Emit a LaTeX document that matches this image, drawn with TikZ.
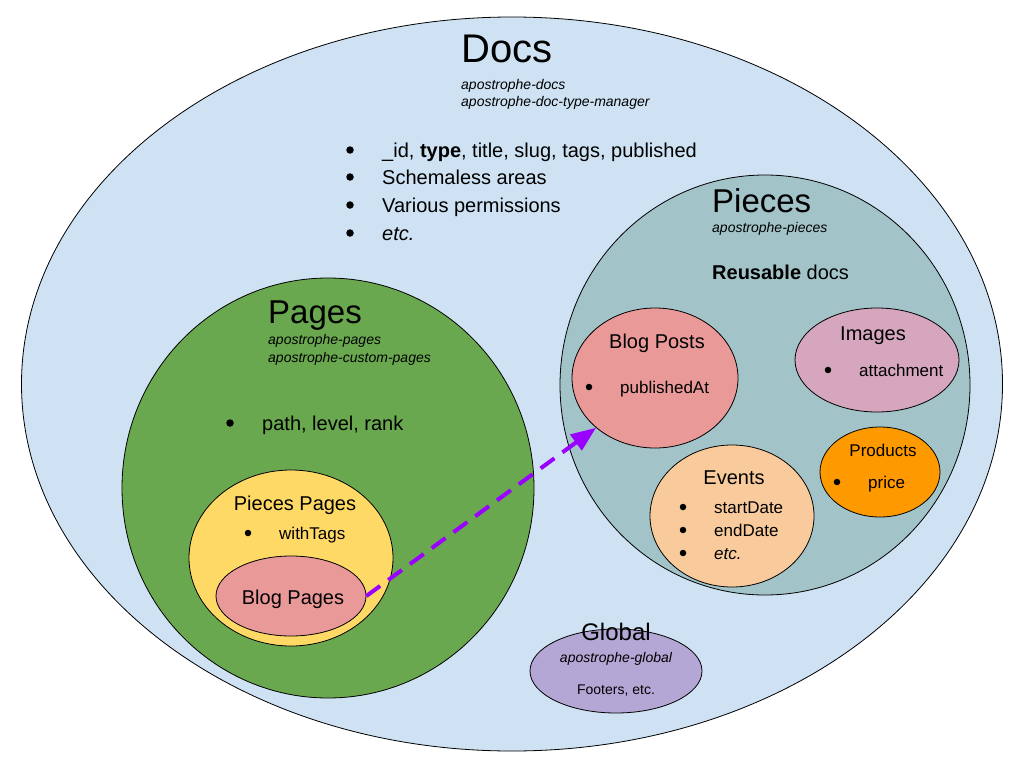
\documentclass[tikz,border=0pt]{standalone}
\usepackage{fontspec}
\setmainfont{Liberation Sans}
\usetikzlibrary{shapes.geometric,arrows.meta}
\definecolor{docsfill}{HTML}{CFE2F3}
\definecolor{pagesfill}{HTML}{6AA84F}
\definecolor{piecesfill}{HTML}{A2C4C9}
\definecolor{blogfill}{HTML}{EA9999}
\definecolor{imagesfill}{HTML}{D5A6BD}
\definecolor{productsfill}{HTML}{FF9900}
\definecolor{eventsfill}{HTML}{F9CB9C}
\definecolor{ppagesfill}{HTML}{FFD966}
\definecolor{globalfill}{HTML}{B4A7D6}
\definecolor{linkpurple}{HTML}{9900FF}

\begin{document}
\begin{tikzpicture}[x=1pt,y=-1pt,
    blob/.style={ellipse,draw=black,line width=0.8pt,inner sep=0pt},
    big/.style={inner sep=0pt,font=\fontsize{40}{48}\selectfont},
    head/.style={inner sep=0pt,font=\fontsize{33}{40}\selectfont},
    mid/.style={inner sep=0pt,font=\fontsize{24}{29}\selectfont},
    mod/.style={inner sep=0pt,font=\fontsize{14}{17}\selectfont\itshape},
    lbl/.style={inner sep=0pt,font=\fontsize{20}{24}\selectfont},
    small/.style={inner sep=0pt,font=\fontsize{17}{20}\selectfont},
    tiny/.style={inner sep=0pt,font=\fontsize{14}{17}\selectfont},
    dot/.style={circle,fill=black,inner sep=0pt,minimum size=7.5},
    sdot/.style={circle,fill=black,inner sep=0pt,minimum size=6.5}]
    \fill[white] (0,0) rectangle (1024,768);
    \useasboundingbox (0,0) rectangle (1024,768);

    % the sets
    \node[blob,fill=docsfill,minimum width=981,minimum height=734] (docs) at (512,384) {};
    \node[blob,fill=pagesfill,minimum width=412,minimum height=420] (pages) at (328,488) {};
    \node[blob,fill=ppagesfill,minimum width=204,minimum height=176] (ppages) at (291,558) {};
    \node[blob,fill=blogfill,minimum width=150,minimum height=80] (bpages) at (291,596) {};
    \node[blob,fill=piecesfill,minimum width=410,minimum height=420] (pieces) at (765,385) {};
    \node[blob,fill=blogfill,minimum width=166,minimum height=140] (bposts) at (655,378) {};
    \node[blob,fill=imagesfill,minimum width=164,minimum height=104] (images) at (877,360) {};
    \node[blob,fill=productsfill,minimum width=120,minimum height=90] (products) at (880,472) {};
    \node[blob,fill=eventsfill,minimum width=164,minimum height=142] (events) at (732,516) {};
    \node[blob,fill=globalfill,minimum width=172,minimum height=84] (global) at (616,671) {};

    % link
    \draw[linkpurple,line width=4pt,dash pattern=on 17pt off 10pt,-{Triangle[length=25pt,width=19pt]}] (bpages.east) -- (bposts.south west);

    % docs
    \node[big,anchor=base west] (dt) at (461,63) {Docs};
    \node[mod,anchor=mid west] (dm1) at (461,87) {apostrophe-docs};
    \node[mod,anchor=mid west] (dm2) at (461,104) {apostrophe-doc-type-manager};
    \node[dot] (db1) at (350,150) {};
    \node[lbl,anchor=mid west] (di1) at (382,155) {\_id, \textbf{type}, title, slug, tags, published};
    \node[dot] (db2) at (350,177) {};
    \node[lbl,anchor=mid west] (di2) at (382,182) {Schemaless areas};
    \node[dot] (db3) at (350,205) {};
    \node[lbl,anchor=mid west] (di3) at (382,210) {Various permissions};
    \node[dot] (db4) at (350,233) {};
    \node[lbl,anchor=mid west] (di4) at (382,238) {\itshape etc.};

    % pages
    \node[head,anchor=base west] (pt) at (268,323) {Pages};
    \node[mod,anchor=mid west] (pm1) at (268,342) {apostrophe-pages};
    \node[mod,anchor=mid west] (pm2) at (268,360) {apostrophe-custom-pages};
    \node[dot] (pb1) at (230,423) {};
    \node[lbl,anchor=mid west] (pi1) at (262,428) {path, level, rank};
    \node[lbl,anchor=base] (ppt) at (295,510) {Pieces Pages};
    \node[sdot] (ppb1) at (248,533) {};
    \node[small,anchor=mid west] (ppi1) at (279,537) {withTags};
    \node[lbl,anchor=base] (bpt) at (293,604) {Blog Pages};

    % pieces
    \node[head,anchor=base west] (st) at (712,212) {Pieces};
    \node[mod,anchor=mid west] (sm1) at (712,230) {apostrophe-pieces};
    \node[lbl,anchor=mid west] (si1) at (712,277) {\textbf{Reusable} docs};
    \node[lbl,anchor=base] (bst) at (657,348) {Blog Posts};
    \node[sdot] (bsb1) at (589,387) {};
    \node[small,anchor=mid west] (bsi1) at (620,391) {publishedAt};
    \node[lbl,anchor=base] (it) at (873,340) {Images};
    \node[sdot] (ib1) at (828,370) {};
    \node[small,anchor=mid west] (ii1) at (859,374) {attachment};
    \node[small,anchor=base] (prt) at (883,456) {Products};
    \node[sdot] (prb1) at (837,482) {};
    \node[small,anchor=mid west] (pri1) at (868,486) {price};
    \node[lbl,anchor=base] (et) at (734,484) {Events};
    \node[sdot] (eb1) at (683,507) {};
    \node[small,anchor=mid west] (ei1) at (714,511) {startDate};
    \node[sdot] (eb2) at (683,530) {};
    \node[small,anchor=mid west] (ei2) at (714,534) {endDate};
    \node[sdot] (eb3) at (683,553) {};
    \node[small,anchor=mid west] (ei3) at (714,557) {\itshape etc.};

    % global
    \node[mid,anchor=base] (gt) at (616,640) {Global};
    \node[mod] (gm1) at (616,659) {apostrophe-global};
    \node[tiny] (gi1) at (616,691) {Footers, etc.};
\end{tikzpicture}
\end{document}
